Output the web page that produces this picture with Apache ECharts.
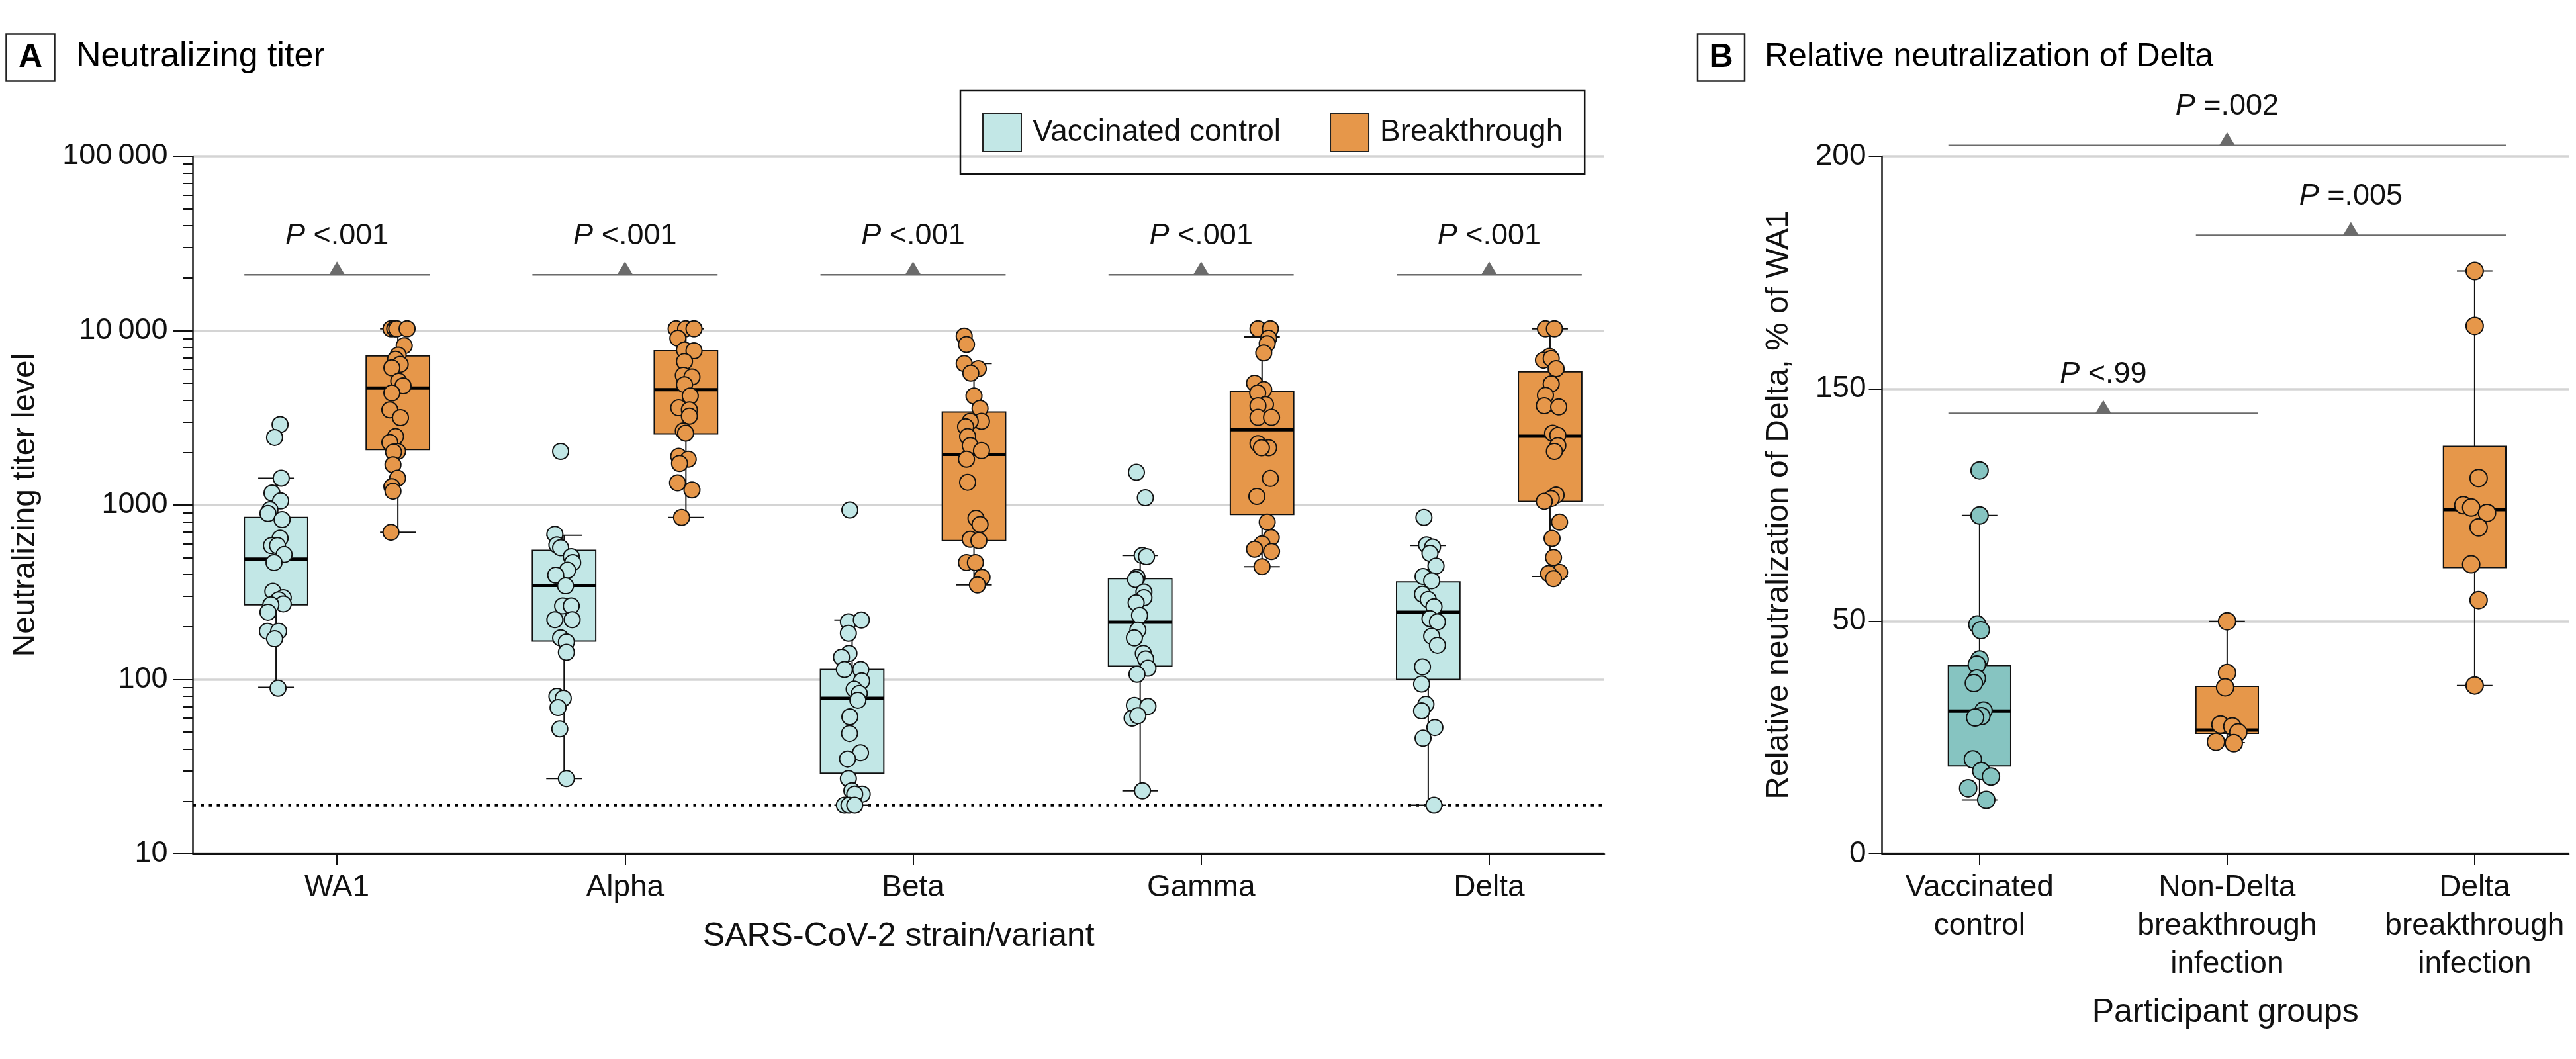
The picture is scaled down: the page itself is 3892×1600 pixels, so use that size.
<!DOCTYPE html>
<html>
<head>
<meta charset="utf-8">
<title>Neutralizing titer and relative neutralization of Delta</title>
<script src="https://cdn.jsdelivr.net/npm/echarts@6/dist/echarts.min.js"></script>
<style>
  html, body { margin: 0; padding: 0; background: #fff; }
  #chart { width: 3892px; height: 1600px; }
</style>
</head>
<body>
<div id="chart"></div>
<script>
var FONT = "'Liberation Sans', Arial, sans-serif";

// ---- Panel A: neutralizing titer ----
var variants = ['WA1', 'Alpha', 'Beta', 'Gamma', 'Delta'];
var titerTicks = ['10', '100', '1000', '10\u2009000', '100\u2009000'];
var detectionLimit = 19;
var pValuesA = ['<.001', '<.001', '<.001', '<.001', '<.001'];
var bracketLevelA = 20900;

// [min, Q1, median, Q3, max]
var controlBoxes = [
    [90, 268, 489, 849, 1425],
    [27, 166, 346, 550, 671],
    [19, 29, 78, 114, 219],
    [23, 119, 213, 378, 514],
    [19, 100, 243, 362, 585]
];
var breakthroughBoxes = [
    [698, 2080, 4690, 7160, 10240],
    [849, 2560, 4580, 7660, 10240],
    [348, 625, 1950, 3410, 6470],
    [443, 883, 2700, 4460, 9200],
    [389, 1050, 2480, 5800, 10240]
];

// points: [jitter, titer]
var ctrlWA1 = [[.014,2890],[-.005,2440],[.018,1425],[-.014,1170],[.016,1055],[-.021,940],[-.028,895],[.021,825],[.014,645],[-.016,585],[.005,585],[.028,520],[-.007,468],[-.011,320],[.025,294],[.009,286],[.025,271],[-.018,268],[-.028,243],[-.030,189],[.009,189],[-.005,171],[.007,89]];
var ctrlAlpha = [[-.012,2030],[-.032,680],[-.025,591],[-.012,569],[.025,506],[.030,468],[.012,423],[-.029,396],[.005,344],[-.005,264],[.025,264],[-.032,220],[.028,220],[-.012,173],[.008,164],[.008,143],[-.025,80],[-.003,78],[-.021,69],[-.015,52],[.008,27]];
var ctrlBeta = [[-.008,937],[-.013,214],[.032,219],[-.013,184],[-.011,141],[-.037,134],[-.027,114],[.030,114],[.033,98],[.007,88],[.025,83],[.020,76],[-.008,61],[-.009,49],[.029,38],[-.016,35],[-.013,27],[-.001,23],[.035,22],[.009,22],[-.027,19],[-.011,19],[.009,19]];
var ctrlGamma = [[-.013,1540],[.018,1100],[.007,514],[.022,506],[-.011,385],[-.016,374],[.013,317],[.013,294],[-.014,275],[-.002,233],[-.008,192],[-.020,173],[.011,141],[.019,131],[.027,116],[-.011,107],[-.020,71],[.027,70],[-.028,60],[-.008,62],[.008,23]];
var ctrlDelta = [[-.015,849],[-.006,591],[.015,574],[.006,528],[.027,447],[-.018,389],[.012,368],[-.020,308],[0,287],[.020,261],[.006,223],[.032,214],[.012,177],[.032,157],[-.020,118],[-.023,94],[-.008,72],[-.023,66],[.023,53],[-.018,46],[.020,19]];

var brkWA1 = [[-.024,10240],[-.011,10240],[-.004,10240],[.032,10240],[.022,8190],[.001,7240],[-.008,6850],[.008,6410],[-.021,6120],[.003,5120],[.018,4820],[-.021,4390],[-.028,3510],[.009,3170],[-.008,2470],[-.028,2285],[-.001,2030],[-.015,2010],[-.017,1700],[-.001,1425],[-.021,1275],[-.017,1200],[-.024,698]];
var brkAlpha = [[-.034,10240],[-.001,10240],[.028,10240],[-.028,9040],[-.005,7740],[.028,7660],[-.005,6650],[-.009,5540],[.021,5420],[-.005,4900],[.015,4220],[-.025,3610],[.012,3510],[.012,3230],[-.009,2660],[-.001,2580],[-.025,1900],[.008,1830],[-.022,1730],[-.029,1340],[.021,1220],[-.015,849]];
var brkBeta = [[-.034,9310],[-.026,8320],[-.034,6470],[.015,6050],[-.011,5700],[0,4220],[.021,3580],[.026,3020],[-.013,3020],[-.029,2810],[-.022,2470],[-.013,2190],[.026,2050],[-.026,1830],[-.022,1350],[.007,839],[.021,773],[-.013,636],[.017,625],[-.026,468],[.005,468],[.028,385],[.012,348]];
var brkGamma = [[-.014,10240],[.029,10240],[.023,9040],[.018,8410],[.006,7450],[-.026,4990],[.006,4590],[-.015,4390],[.012,3770],[-.014,3710],[-.014,3180],[.033,3180],[-.014,2250],[.023,2130],[-.002,2130],[.029,1420],[-.018,1120],[.018,798],[.032,650],[0,598],[-.026,558],[.033,541],[0,443]];
var brkDelta = [[-.016,10240],[.015,10240],[-.002,7110],[-.023,6770],[.004,6920],[.021,6050],[.004,4950],[-.016,4260],[-.020,3710],[.030,3650],[.009,2580],[.027,2510],[.027,2190],[.015,2030],[.021,1140],[.004,1090],[-.020,1050],[.033,798],[.007,643],[.012,500],[.033,411],[-.005,405],[.012,378]];

var controlPoints = [ctrlWA1, ctrlAlpha, ctrlBeta, ctrlGamma, ctrlDelta];
var breakthroughPoints = [brkWA1, brkAlpha, brkBeta, brkGamma, brkDelta];

// ---- Panel B: relative neutralization of Delta (% of WA1) ----
var groupsB = ['Vaccinated\ncontrol', 'Non-Delta\nbreakthrough\ninfection', 'Delta\nbreakthrough\ninfection'];
var relTicks = ['0', '50', '150', '200'];
var relBoxes = [
    [11.6, 18.9, 30.7, 40.5, 95.5],
    [23.9, 25.9, 26.6, 36.0, 50.0],
    [36.2, 73.1, 98.0, 125.2, 175.3]
];
var relCtrl = [[0,114.9],[0,95.5],[-.009,49.3],[.005,48.1],[0,41.8],[-.011,40.7],[-.011,37.7],[-.023,36.7],[.016,30.8],[.007,29.6],[-.018,29.3],[-.027,20.3],[.007,17.8],[.046,16.6],[-.046,14.1],[.027,11.6]];
var relNonDelta = [[0,50.0],[0,38.9],[-.008,35.8],[-.027,27.8],[.021,27.4],[.045,26.1],[-.045,24.1],[.027,23.8]];
var relDelta = [[0,175.3],[0,163.5],[.016,111.6],[-.046,99.9],[-.014,98.9],[.05,96.6],[.016,90.4],[-.014,74.5],[.016,59.1],[0,36.2]];
// [from group, to group, level]
var bracketsB = [[1, 2, 139.4], [2, 3, 183], [1, 3, 202.3]];
var pValuesB = ['<.99', '=.005', '=.002'];

// ---- styling ----
var C_LIGHT = '#c2e7e6', C_TEAL = '#86c4c1', C_ORANGE = '#e6974a';
var INK = '#111';
var PAIR_OFFSET = 0.2115;
var BOX_HALF_A = 0.11, CAP_HALF_A = 0.062;
var BOX_HALF_B = 0.126, CAP_HALF_B = 0.072;

function logT(v) { return Math.log10(v); }
// the published axis spaces 0, 50, 150 and 200 evenly
function relT(v) {
    if (v <= 50) return v / 50;
    if (v <= 150) return 1 + (v - 50) / 100;
    return 2 + (v - 150) / 50;
}

var minorTicks = [];
for (var d = 1; d < 5; d++) {
    for (var k = 2; k < 10; k++) minorTicks.push(d + Math.log10(k));
}

function boxData(boxes, xs, tf) {
    return boxes.map(function (b, i) { return [xs[i]].concat(b.map(tf)); });
}
function pointData(groups, xs, tf) {
    var out = [];
    groups.forEach(function (g, i) {
        g.forEach(function (p) { out.push([xs[i] + p[0], tf(p[1])]); });
    });
    return out;
}

function makeBoxRender(halfWidth, capHalf) {
    return function (params, api) {
        var x = api.value(0);
        var p = [1, 2, 3, 4, 5].map(function (dim) { return api.coord([x, api.value(dim)]); });
        var hw = api.size([halfWidth * 2, 0])[0] / 2;
        var cw = api.size([capHalf * 2, 0])[0] / 2;
        var cx = p[0][0];
        var ink = { stroke: INK, lineWidth: 2 };
        return {
            type: 'group',
            children: [
                { type: 'line', shape: { x1: cx, y1: p[0][1], x2: cx, y2: p[4][1] }, style: ink },
                { type: 'line', shape: { x1: cx - cw, y1: p[0][1], x2: cx + cw, y2: p[0][1] }, style: ink },
                { type: 'line', shape: { x1: cx - cw, y1: p[4][1], x2: cx + cw, y2: p[4][1] }, style: ink },
                { type: 'rect', shape: { x: cx - hw, y: p[3][1], width: hw * 2, height: p[1][1] - p[3][1] },
                  style: { fill: api.visual('color'), stroke: INK, lineWidth: 2 } },
                { type: 'line', shape: { x1: cx - hw, y1: p[2][1], x2: cx + hw, y2: p[2][1] },
                  style: { stroke: '#000', lineWidth: 5 } }
            ]
        };
    };
}

function makeBracketRender(labels) {
    return function (params, api) {
        var a = api.coord([api.value(0), api.value(2)]);
        var b = api.coord([api.value(1), api.value(2)]);
        var mx = (a[0] + b[0]) / 2, y = a[1];
        return {
            type: 'group',
            children: [
                { type: 'line', shape: { x1: a[0], y1: y, x2: b[0], y2: y }, style: { stroke: '#6b6b6b', lineWidth: 2.5 } },
                { type: 'polygon', shape: { points: [[mx - 12, y], [mx + 12, y], [mx, y - 20]] }, style: { fill: '#6b6b6b' } },
                { type: 'text', x: mx, y: y - 59, style: {
                    text: '{i|P} ' + labels[params.dataIndex],
                    fill: INK, fontSize: 45, fontFamily: FONT, align: 'center', verticalAlign: 'middle',
                    rich: { i: { fontStyle: 'italic', fontSize: 45, fontFamily: FONT, fill: INK } }
                } }
            ]
        };
    };
}

var posA = variants.map(function (v, i) { return i + 1; });
var posCtrlA = posA.map(function (x) { return x - PAIR_OFFSET; });
var posBrkA = posA.map(function (x) { return x + PAIR_OFFSET; });
var posB = groupsB.map(function (g, i) { return i + 1; });

var tickLine = { color: INK, width: 2 };

var option = {
    animation: false,
    backgroundColor: '#fff',
    textStyle: { fontFamily: FONT },
    title: [
        { text: 'A', left: 9, top: 51, padding: [11, 19], borderWidth: 2.5, borderColor: '#222',
          textStyle: { fontSize: 50, fontWeight: 'bold', lineHeight: 50, color: '#000', fontFamily: FONT } },
        { text: 'Neutralizing titer', left: 115, top: 60, padding: 0,
          textStyle: { fontSize: 52, fontWeight: 'normal', lineHeight: 52, color: '#000', fontFamily: FONT } },
        { text: 'B', left: 2565, top: 51, padding: [11, 17.5], borderWidth: 2.5, borderColor: '#222',
          textStyle: { fontSize: 50, fontWeight: 'bold', lineHeight: 50, color: '#000', fontFamily: FONT } },
        { text: 'Relative neutralization of Delta', left: 2666, top: 60, padding: 0,
          textStyle: { fontSize: 50, fontWeight: 'normal', lineHeight: 52, color: '#000', fontFamily: FONT } }
    ],
    legend: {
        left: 1451, top: 137, padding: [33, 33, 33, 33],
        itemWidth: 58, itemHeight: 58, itemGap: 74,
        borderColor: INK, borderWidth: 2.5, selectedMode: false,
        textStyle: { fontSize: 46, fontFamily: FONT, color: INK, padding: [0, 0, 0, 12] },
        data: [
            { name: 'Vaccinated control', icon: 'rect', itemStyle: { color: C_LIGHT, borderColor: '#222', borderWidth: 2 } },
            { name: 'Breakthrough', icon: 'rect', itemStyle: { color: C_ORANGE, borderColor: '#222', borderWidth: 2 } }
        ]
    },
    grid: [
        { left: 291.5, top: 236, width: 2132.5, height: 1054, outerBoundsMode: 'none' },
        { left: 2843.5, top: 236, width: 1037.5, height: 1054, outerBoundsMode: 'none' }
    ],
    xAxis: [
        {
            type: 'value', gridIndex: 0, min: 0.5, max: 5.4,
            axisLine: { show: true, onZero: false, lineStyle: { color: INK, width: 3 } },
            axisTick: { show: true, customValues: posA, length: 17, lineStyle: tickLine },
            axisLabel: { customValues: posA, formatter: function (v) { return variants[Math.round(v) - 1]; },
                         margin: 28, fontSize: 46, color: INK, fontFamily: FONT },
            splitLine: { show: false },
            name: 'SARS-CoV-2 strain/variant', nameLocation: 'middle', nameGap: 100,
            nameTextStyle: { fontSize: 50, color: INK, fontFamily: FONT }
        },
        {
            type: 'value', gridIndex: 1, min: 0.606, max: 3.38,
            axisLine: { show: true, onZero: false, lineStyle: { color: INK, width: 3 } },
            axisTick: { show: true, customValues: posB, length: 17, lineStyle: tickLine },
            axisLabel: { customValues: posB, formatter: function (v) { return groupsB[Math.round(v) - 1]; },
                         margin: 22, fontSize: 46, lineHeight: 58, color: INK, fontFamily: FONT },
            splitLine: { show: false },
            name: 'Participant groups', nameLocation: 'middle', nameGap: 215,
            nameTextStyle: { fontSize: 50, color: INK, fontFamily: FONT }
        }
    ],
    yAxis: [
        {
            type: 'value', gridIndex: 0, min: 1, max: 5, interval: 1,
            axisLine: { show: true, onZero: false, lineStyle: { color: INK, width: 2.5 } },
            axisTick: { show: true, length: 30, lineStyle: tickLine },
            axisLabel: { formatter: function (v) { return titerTicks[Math.round(v) - 1]; },
                         margin: 38, fontSize: 45, color: INK, fontFamily: FONT },
            splitLine: { show: true, lineStyle: { color: '#d4d4d4', width: 3.5 } },
            name: 'Neutralizing titer level', nameLocation: 'middle', nameGap: 229,
            nameTextStyle: { fontSize: 48, color: INK, fontFamily: FONT }
        },
        {
            type: 'value', gridIndex: 0, min: 1, max: 5, position: 'left',
            axisLine: { show: false }, axisLabel: { show: false }, splitLine: { show: false },
            axisTick: { show: true, customValues: minorTicks, length: 15, lineStyle: tickLine }
        },
        {
            type: 'value', gridIndex: 1, min: 0, max: 3, interval: 1,
            axisLine: { show: true, onZero: false, lineStyle: { color: INK, width: 2.5 } },
            axisTick: { show: true, length: 20, lineStyle: tickLine },
            axisLabel: { formatter: function (v) { return relTicks[Math.round(v)]; },
                         margin: 24, fontSize: 46, color: INK, fontFamily: FONT },
            splitLine: { show: true, lineStyle: { color: '#d4d4d4', width: 3.5 } },
            name: 'Relative neutralization of Delta, % of WA1', nameLocation: 'middle', nameGap: 132,
            nameTextStyle: { fontSize: 48, color: INK, fontFamily: FONT }
        }
    ],
    series: [
        {
            name: 'Vaccinated control', type: 'custom', xAxisIndex: 0, yAxisIndex: 0, z: 2,
            itemStyle: { color: C_LIGHT },
            renderItem: makeBoxRender(BOX_HALF_A, CAP_HALF_A),
            encode: { x: 0, y: [1, 2, 3, 4, 5] },
            data: boxData(controlBoxes, posCtrlA, logT)
        },
        {
            name: 'Breakthrough', type: 'custom', xAxisIndex: 0, yAxisIndex: 0, z: 2,
            itemStyle: { color: C_ORANGE },
            renderItem: makeBoxRender(BOX_HALF_A, CAP_HALF_A),
            encode: { x: 0, y: [1, 2, 3, 4, 5] },
            data: boxData(breakthroughBoxes, posBrkA, logT)
        },
        {
            name: 'Vaccinated control', type: 'scatter', xAxisIndex: 0, yAxisIndex: 0, z: 3,
            symbolSize: 24,
            itemStyle: { color: C_LIGHT, borderColor: INK, borderWidth: 2, opacity: 1 },
            data: pointData(controlPoints, posCtrlA, logT),
            markLine: {
                silent: true, symbol: 'none', label: { show: false }, z: 1,
                lineStyle: { color: '#000', type: [4.5, 7.5], width: 4.5, opacity: 1 },
                data: [{ yAxis: logT(detectionLimit) }]
            }
        },
        {
            name: 'Breakthrough', type: 'scatter', xAxisIndex: 0, yAxisIndex: 0, z: 3,
            symbolSize: 24,
            itemStyle: { color: C_ORANGE, borderColor: INK, borderWidth: 2, opacity: 1 },
            data: pointData(breakthroughPoints, posBrkA, logT)
        },
        {
            name: 'P values A', type: 'custom', xAxisIndex: 0, yAxisIndex: 0, z: 2,
            renderItem: makeBracketRender(pValuesA),
            encode: { x: [0, 1], y: 2 },
            data: posA.map(function (x) {
                return [x - PAIR_OFFSET - BOX_HALF_A, x + PAIR_OFFSET + BOX_HALF_A, logT(bracketLevelA)];
            })
        },
        {
            name: 'Relative control', type: 'custom', xAxisIndex: 1, yAxisIndex: 2, z: 2,
            itemStyle: { color: C_TEAL },
            renderItem: makeBoxRender(BOX_HALF_B, CAP_HALF_B),
            encode: { x: 0, y: [1, 2, 3, 4, 5] },
            data: boxData(relBoxes.slice(0, 1), posB.slice(0, 1), relT)
        },
        {
            name: 'Relative breakthrough', type: 'custom', xAxisIndex: 1, yAxisIndex: 2, z: 2,
            itemStyle: { color: C_ORANGE },
            renderItem: makeBoxRender(BOX_HALF_B, CAP_HALF_B),
            encode: { x: 0, y: [1, 2, 3, 4, 5] },
            data: boxData(relBoxes.slice(1), posB.slice(1), relT)
        },
        {
            name: 'Relative control points', type: 'scatter', xAxisIndex: 1, yAxisIndex: 2, z: 3,
            symbolSize: 26,
            itemStyle: { color: C_TEAL, borderColor: INK, borderWidth: 2, opacity: 1 },
            data: pointData([relCtrl], posB.slice(0, 1), relT)
        },
        {
            name: 'Relative breakthrough points', type: 'scatter', xAxisIndex: 1, yAxisIndex: 2, z: 3,
            symbolSize: 26,
            itemStyle: { color: C_ORANGE, borderColor: INK, borderWidth: 2, opacity: 1 },
            data: pointData([relNonDelta, relDelta], posB.slice(1), relT)
        },
        {
            name: 'P values B', type: 'custom', xAxisIndex: 1, yAxisIndex: 2, z: 2,
            renderItem: makeBracketRender(pValuesB),
            encode: { x: [0, 1], y: 2 },
            data: bracketsB.map(function (b) {
                return [b[0] - BOX_HALF_B, b[1] + BOX_HALF_B, relT(b[2])];
            })
        }
    ]
};

var chart = echarts.init(document.getElementById('chart'), null, { renderer: 'canvas' });
chart.setOption(option);
</script>
</body>
</html>
